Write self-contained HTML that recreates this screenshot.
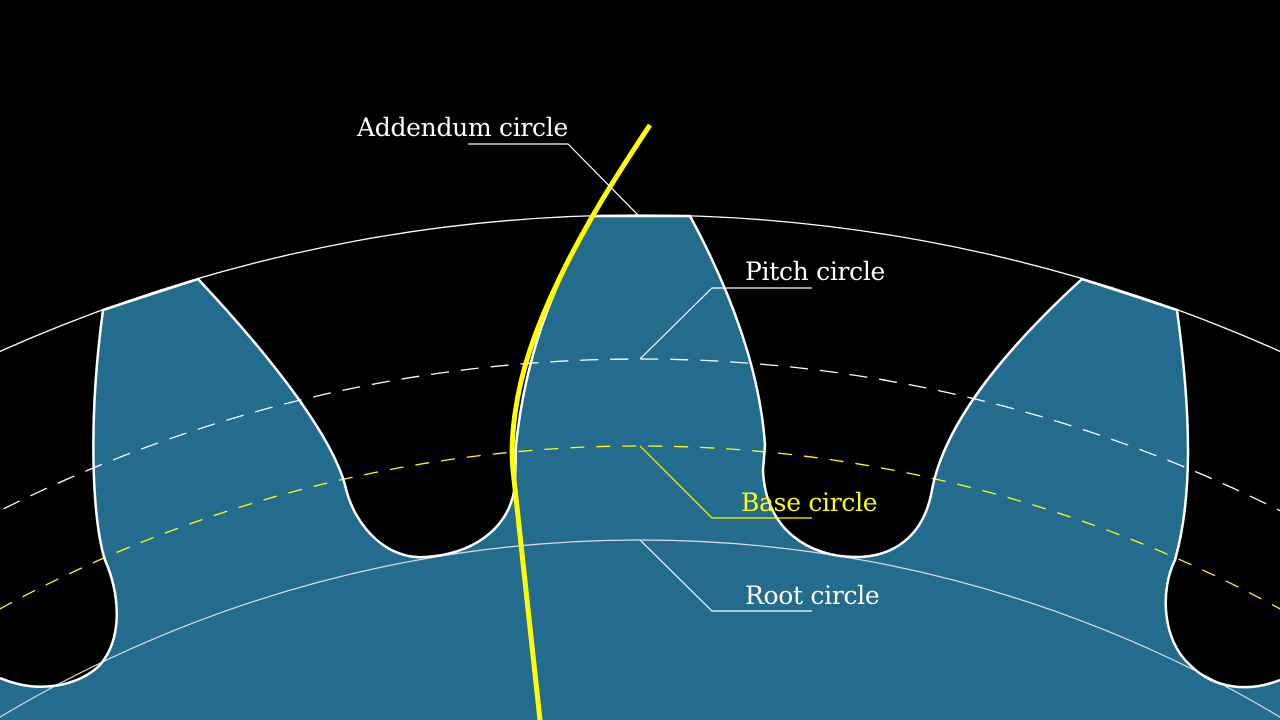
<!DOCTYPE html>
<html><head><meta charset="utf-8"><style>
html,body{margin:0;padding:0;background:#000;width:1280px;height:720px;overflow:hidden}
svg{display:block;overflow:hidden;position:fixed;left:0;top:0}
text{font-family:"DejaVu Serif","Liberation Serif",serif;font-size:25px;letter-spacing:-0.3px}
</style></head><body>
<svg width="1280" height="720" viewBox="0 0 1280 720">
<rect width="1280" height="720" fill="#000"/>
<path d="M0,678 C40,695 80,685 100,665 C125,635 118,590 105,560 C92,520 88,420 103,310 L198,279 C260,345 330,430 345,485 C355,530 390,560 425,557 C470,555 510,530 515,485 L516,445 C525,360 550,290 593,216 L690,216 C730,290 760,370 765,445 L763,470 C765,530 810,557 855,557 C900,557 925,530 932,490 C945,420 1010,345 1082,279 L1177,310 C1192,420 1192,500 1175,560 C1160,590 1162,640 1190,665 C1215,690 1250,692 1280,680 L1280,720 L0,720 Z" fill="#246c8e"/>
<circle cx="640" cy="1785" r="1570" fill="none" stroke="#fff" stroke-width="1.3"/>
<circle cx="640" cy="1785" r="1426" fill="none" stroke="#fff" stroke-width="1.3" stroke-dasharray="18 12"/>
<circle cx="640" cy="1785" r="1339" fill="none" stroke="#ff0" stroke-width="1.3" stroke-dasharray="14 12"/>
<circle cx="640" cy="1785" r="1245" fill="none" stroke="#ddd" stroke-width="1.2"/>
<path d="M0,678 C40,695 80,685 100,665 C125,635 118,590 105,560 C92,520 88,420 103,310 L198,279 C260,345 330,430 345,485 C355,530 390,560 425,557 C470,555 510,530 515,485 L516,445 C525,360 550,290 593,216 L690,216 C730,290 760,370 765,445 L763,470 C765,530 810,557 855,557 C900,557 925,530 932,490 C945,420 1010,345 1082,279 L1177,310 C1192,420 1192,500 1175,560 C1160,590 1162,640 1190,665 C1215,690 1250,692 1280,680" fill="none" stroke="#fff" stroke-width="2.5"/>
<path d="M650,125 C620,170 560,260 530,350 C515,395 510,440 513,470 L540,720" fill="none" stroke="#ff0" stroke-width="5"/>
<g fill="none" stroke-width="1.2">
<path d="M468,144 L568,144 L638,215" stroke="#fff"/>
<path d="M812,288 L712,288 L640,359" stroke="#fff"/>
<path d="M812,518 L712,518 L640,446" stroke="#ff0"/>
<path d="M812,611 L712,611 L640,540" stroke="#fff"/>
</g>
<text x="357" y="136" fill="#fff">Addendum circle</text>
<text x="745" y="280" fill="#fff">Pitch circle</text>
<text x="741" y="511" fill="#ff0">Base circle</text>
<text x="745" y="604" fill="#fff">Root circle</text>
</svg>
</body></html>
